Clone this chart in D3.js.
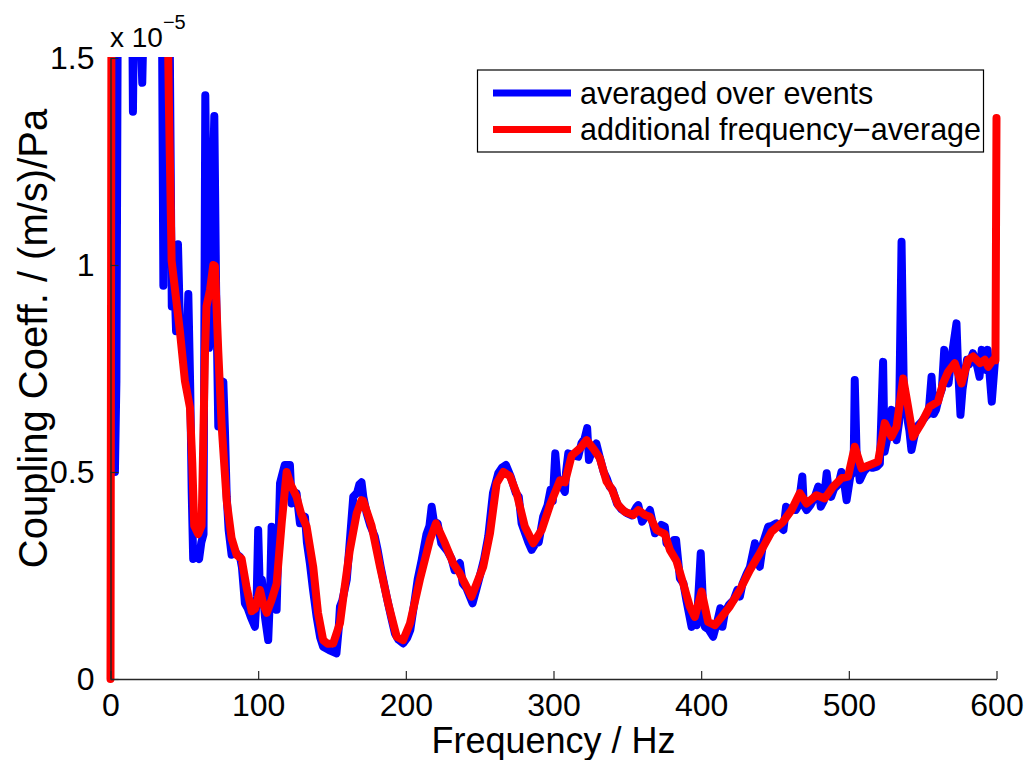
<!DOCTYPE html>
<html>
<head>
<meta charset="utf-8">
<script src="https://cdn.jsdelivr.net/npm/d3@7"></script>
<style>
  body { margin: 0; background: #fff; }
  text { font-family: "Liberation Sans", Arial, sans-serif; fill: #000; }
</style>
</head>
<body>
<div id="chart"></div>
<script>
// Blue series: averaged over events (frequency in Hz, value in 1e-5 (m/s)/Pa)
const freqBlue = [3, 4, 5.5, 14, 15.2, 16.5, 20.5, 21.5, 22.5, 26, 34, 35.8, 37.5, 40, 41.5, 43, 44.4, 45.7, 47, 49,
  51, 52.7, 54, 55, 56, 58, 60, 61.5, 63, 64.2, 65.5, 66.7, 68, 70.3, 71.5, 73, 74.5, 76.4, 77.5, 78.7,
  80, 82, 84, 86, 87.7, 89, 91, 93, 95, 97.8, 99, 100, 101, 102.5, 104.6, 106.8, 108, 109.1, 110.5, 112.5,
  113.5, 114.8, 116, 118, 121.5, 122.7, 124.5, 126, 128.3, 130, 131.7, 133, 135, 137, 139.6, 142, 144, 148, 153, 154.5,
  155.4, 157, 160, 162, 164.4, 167, 168.5, 170, 171.2, 173.5, 176, 179, 181, 183, 187, 190, 192.6, 195, 198.2, 201,
  203, 206, 208, 210.7, 214, 216, 217.5, 219, 221.5, 224, 228, 231, 233, 236.6, 238.5, 241, 245.2, 248, 250, 253,
  255.8, 259, 262.6, 265, 267.8, 271, 274.5, 276.5, 278.4, 281, 283, 285.2, 288, 290, 293, 296, 298, 299.5, 301.2, 302.5,
  305, 307.7, 308.5, 310, 313, 316.7, 319, 321, 322.8, 324, 326, 329, 331, 334, 336, 338, 340, 343, 346, 350,
  353, 356.3, 357.4, 360, 362, 365.3, 367, 368.7, 371, 373, 375.4, 376.5, 379, 381.5, 383, 385.6, 388, 390, 393.5, 395.5,
  397, 399.7, 401, 402.5, 405, 408.1, 411, 413, 414.4, 416, 419, 422, 424.5, 426.2, 428, 430.9, 433, 436.4, 438, 439.7,
  442, 445.4, 448, 451, 455.7, 457.5, 460, 464, 466, 468.5, 469.5, 471.4, 474, 477, 479.3, 481, 483, 485, 486.5, 488,
  490, 493, 495, 497, 498.5, 501, 503.2, 504, 505.2, 507.4, 510, 513, 516, 519, 521, 523.2, 524.2, 526, 529, 530.5,
  532.3, 534, 535.7, 537.2, 539, 541, 542.4, 544, 546, 549, 552, 554, 556, 557.5, 559, 561, 563, 564.6, 566, 567.5,
  569, 570.5, 572.9, 574, 575.6, 577, 580, 581.5, 584, 586, 588.5, 590, 591.5, 593, 594, 595, 596.8, 599];
const valBlue = [0.5, 0.72, 2.2, 2.0, 1.37, 1.8, 1.55, 1.44, 1.6, 2.2, 2.2, 0.95, 2.0, 1.6, 0.9, 1.0, 0.84, 1.05, 0.86, 0.8,
  0.72, 0.93, 0.7, 0.45, 0.29, 0.3, 0.29, 0.33, 0.35, 1.41, 1.0, 0.8, 1.0, 1.36, 0.95, 0.61, 0.72, 0.718, 0.6, 0.44,
  0.36, 0.3, 0.31, 0.3, 0.295, 0.27, 0.183, 0.17, 0.15, 0.126, 0.2, 0.36, 0.23, 0.24, 0.15, 0.094, 0.2, 0.368, 0.25, 0.167,
  0.3, 0.473, 0.49, 0.517, 0.517, 0.424, 0.43, 0.449, 0.376, 0.38, 0.392, 0.33, 0.28, 0.22, 0.15, 0.1, 0.078, 0.07, 0.062, 0.12,
  0.175, 0.19, 0.24, 0.33, 0.44, 0.45, 0.47, 0.475, 0.44, 0.4, 0.37, 0.344, 0.31, 0.27, 0.199, 0.15, 0.11, 0.095, 0.086, 0.1,
  0.118, 0.19, 0.24, 0.287, 0.35, 0.37, 0.416, 0.38, 0.376, 0.328, 0.31, 0.29, 0.263, 0.28, 0.231, 0.22, 0.183, 0.22, 0.247, 0.29,
  0.344, 0.449, 0.497, 0.51, 0.517, 0.489, 0.449, 0.44, 0.376, 0.35, 0.33, 0.312, 0.328, 0.33, 0.392, 0.42, 0.457, 0.43, 0.545, 0.489,
  0.47, 0.452, 0.5, 0.545, 0.54, 0.537, 0.57, 0.58, 0.606, 0.529, 0.55, 0.569, 0.54, 0.5, 0.485, 0.465, 0.457, 0.424, 0.41, 0.4,
  0.395, 0.416, 0.42, 0.38, 0.39, 0.408, 0.38, 0.352, 0.36, 0.372, 0.368, 0.328, 0.32, 0.336, 0.336, 0.243, 0.231, 0.19, 0.126, 0.14,
  0.13, 0.304, 0.2, 0.126, 0.12, 0.102, 0.14, 0.171, 0.126, 0.16, 0.18, 0.191, 0.215, 0.199, 0.23, 0.255, 0.27, 0.328, 0.29, 0.271,
  0.33, 0.368, 0.37, 0.376, 0.36, 0.416, 0.41, 0.408, 0.42, 0.489, 0.42, 0.408, 0.42, 0.44, 0.465, 0.416, 0.43, 0.497, 0.45, 0.44,
  0.46, 0.47, 0.5, 0.47, 0.432, 0.49, 0.5, 0.722, 0.55, 0.48, 0.5, 0.513, 0.51, 0.513, 0.52, 0.766, 0.549, 0.58, 0.65, 0.6,
  0.577, 0.62, 1.056, 0.7, 0.642, 0.6, 0.553, 0.58, 0.609, 0.62, 0.634, 0.64, 0.73, 0.64, 0.65, 0.68, 0.7, 0.795, 0.73, 0.714,
  0.76, 0.8, 0.859, 0.75, 0.638, 0.7, 0.771, 0.76, 0.787, 0.77, 0.73, 0.795, 0.75, 0.746, 0.795, 0.75, 0.67, 0.771];

// Red series: additional frequency-average
const freqRed = [0, 1, 20, 38, 39.5, 41.4, 43.7, 47, 50.4, 53.8, 55.4, 56.7, 59.4, 61.7, 64, 65, 67.4, 69.6, 70.7, 73,
  75.3, 78.7, 82, 85.4, 88.8, 92.2, 95.6, 98, 101.2, 103.5, 105.8, 109, 112.5, 116, 119.3, 122, 126, 129, 132.8, 137.3,
  140.5, 144, 147, 150.8, 155.4, 158.5, 162, 166.7, 170, 171.2, 176.8, 182.5, 188, 193.8, 198.2, 202.8, 209.5, 216.3, 220.4, 226.5,
  232, 236.6, 244.5, 252.4, 257, 261.5, 266, 270.5, 275, 280.6, 286.3, 292, 297.6, 304.4, 307.7, 312.3, 317.9, 322.4, 326.9, 331.4,
  335.9, 339.3, 343.8, 348.3, 354, 357.4, 362, 365.3, 369.8, 375.4, 378.8, 383.3, 387.8, 392.3, 395.7, 400.3, 404.7, 409.3, 413.8, 419.4,
  426.2, 433, 439.7, 447.7, 455.5, 461.2, 466.8, 471.4, 478.1, 483.7, 489.4, 495, 499.5, 504, 508.6, 514.2, 519.8, 524.3, 528.9, 532.3,
  536.8, 540.1, 543.5, 549.2, 554.8, 560.4, 563.8, 567.2, 571.7, 576.3, 580.8, 584.2, 588.8, 592.1, 594.4, 597.7, 599.3, 600];
const valRed = [0, 2.5, 2.6, 1.8, 1.4, 1.01, 0.94, 0.84, 0.72, 0.656, 0.52, 0.37, 0.35, 0.37, 0.79, 0.9, 0.94, 1.0, 0.998, 0.79,
  0.61, 0.43, 0.34, 0.3, 0.29, 0.22, 0.164, 0.17, 0.215, 0.18, 0.16, 0.19, 0.23, 0.38, 0.5, 0.47, 0.44, 0.4, 0.368, 0.27,
  0.16, 0.094, 0.085, 0.086, 0.135, 0.22, 0.31, 0.4, 0.432, 0.43, 0.37, 0.271, 0.183, 0.102, 0.094, 0.134, 0.24, 0.336, 0.376, 0.328,
  0.28, 0.255, 0.199, 0.271, 0.352, 0.473, 0.5, 0.49, 0.449, 0.368, 0.328, 0.36, 0.42, 0.48, 0.475, 0.54, 0.557, 0.577, 0.557, 0.533,
  0.477, 0.46, 0.42, 0.404, 0.396, 0.408, 0.396, 0.392, 0.36, 0.35, 0.312, 0.285, 0.231, 0.175, 0.15, 0.211, 0.138, 0.13, 0.15, 0.175,
  0.215, 0.263, 0.304, 0.356, 0.38, 0.408, 0.449, 0.424, 0.444, 0.436, 0.465, 0.485, 0.489, 0.561, 0.509, 0.517, 0.525, 0.618, 0.585, 0.609,
  0.726, 0.658, 0.585, 0.618, 0.658, 0.67, 0.714, 0.742, 0.763, 0.714, 0.771, 0.779, 0.763, 0.771, 0.754, 0.771, 0.77, 1.355];

// Tick values and legend labels
const xTicks = [0, 100, 200, 300, 400, 500, 600];
const yTicks = [0, 0.5, 1, 1.5];
const seriesNames = ["averaged over events", "additional frequency\u2212average"];
const seriesColors = ["#0000ff", "#ff0000"];

const width = 1026;
const height = 760;
const plotLeft = 110.5, plotRight = 996.5, plotTop = 58, plotBottom = 679;

const svg = d3.select("#chart")
  .append("svg")
  .attr("width", width)
  .attr("height", height);

const xScale = d3.scaleLinear().domain([0, 600]).range([plotLeft, plotRight]);
const yScale = d3.scaleLinear().domain([0, 1.5]).range([plotBottom, plotTop]);

// clip so that the values above 1.5 are cut at the top of the axes
svg.append("clipPath")
  .attr("id", "clip")
  .append("rect")
  .attr("x", plotLeft - 6)
  .attr("y", plotTop - 1)
  .attr("width", plotRight - plotLeft + 12)
  .attr("height", plotBottom - plotTop + 10);

const line = d3.line()
  .x(d => xScale(d[0]))
  .y(d => yScale(d[1]));

const blueData = freqBlue.map((f, i) => [f, valBlue[i]]);
const redData = freqRed.map((f, i) => [f, valRed[i]]);

const plot = svg.append("g").attr("clip-path", "url(#clip)");
[blueData, redData].forEach((data, i) => {
  plot.append("path")
    .datum(data)
    .attr("d", line)
    .attr("fill", "none")
    .attr("stroke", seriesColors[i])
    .attr("stroke-width", 8)
    .attr("stroke-linejoin", "round")
    .attr("stroke-linecap", "round");
});

// X axis (ticks inside, no box)
const xAxis = d3.axisBottom(xScale)
  .tickValues(xTicks)
  .tickSizeInner(-8)
  .tickSizeOuter(0)
  .tickPadding(14);

svg.append("g")
  .attr("transform", `translate(0, ${plotBottom})`)
  .call(xAxis)
  .call(g => g.select(".domain").attr("stroke", "#262626").attr("stroke-width", 1.5))
  .call(g => g.selectAll(".tick line").attr("stroke", "#262626").attr("stroke-width", 1.2))
  .call(g => g.selectAll(".tick text")
    .attr("font-size", 32)
    .attr("font-family", "Liberation Sans, Arial, sans-serif")
    .attr("fill", "#000"));

// Y axis
const yAxis = d3.axisLeft(yScale)
  .tickValues(yTicks)
  .tickFormat(d3.format("~g"))
  .tickSizeInner(-8)
  .tickSizeOuter(0)
  .tickPadding(16);

svg.append("g")
  .attr("transform", `translate(${plotLeft}, 0)`)
  .call(yAxis)
  .call(g => g.select(".domain").attr("stroke", "#262626").attr("stroke-width", 1.5))
  .call(g => g.selectAll(".tick line").attr("stroke", "#262626").attr("stroke-width", 1.2))
  .call(g => g.selectAll(".tick text")
    .attr("font-size", 32)
    .attr("font-family", "Liberation Sans, Arial, sans-serif")
    .attr("fill", "#000"));

// exponent label above the y axis
const expLabel = svg.append("text")
  .attr("x", 110)
  .attr("y", 47)
  .attr("font-size", 28);
expLabel.append("tspan").text("x 10");
expLabel.append("tspan")
  .attr("dy", -18)
  .attr("font-size", 20)
  .text("\u22125");

// axis titles
svg.append("text")
  .attr("x", (plotLeft + plotRight) / 2)
  .attr("y", 753)
  .attr("text-anchor", "middle")
  .attr("font-size", 36)
  .text("Frequency / Hz");

svg.append("text")
  .attr("transform", `translate(47, ${(plotTop + plotBottom) / 2 - 30}) rotate(-90)`)
  .attr("text-anchor", "middle")
  .attr("font-size", 40)
  .text("Coupling Coeff. / (m/s)/Pa");

// legend
const legend = svg.append("g");
legend.append("rect")
  .attr("x", 477.5)
  .attr("y", 70)
  .attr("width", 506)
  .attr("height", 82)
  .attr("fill", "#fff")
  .attr("stroke", "#000")
  .attr("stroke-width", 1.2);

seriesNames.forEach((name, i) => {
  const y = 93 + i * 36.5;
  legend.append("line")
    .attr("x1", 493).attr("x2", 571)
    .attr("y1", y).attr("y2", y)
    .attr("stroke", seriesColors[i])
    .attr("stroke-width", 7);
  legend.append("text")
    .attr("x", 580)
    .attr("y", y + 10.5)
    .attr("font-size", 30.5)
    .text(name);
});
</script>
</body>
</html>
